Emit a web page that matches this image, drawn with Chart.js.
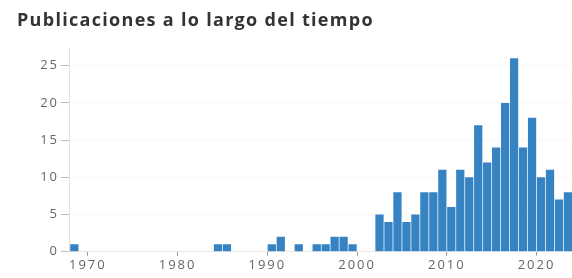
<!DOCTYPE html>
<html>
<head>
<meta charset="utf-8">
<script src="https://cdn.jsdelivr.net/npm/chart.js@4"></script>
<style>
  html, body { margin: 0; padding: 0; background: #fff; }
  #wrap { position: relative; width: 572px; height: 278px; }
  #wrap canvas { position: absolute; left: 0; top: 0; }
  #title {
    position: absolute; left: 17px; top: 7px;
    font: bold 18px "Open Sans"; color: #333;
    letter-spacing: 1.3px; white-space: nowrap;
  }
</style>
</head>
<body>
<div id="wrap">
  <canvas id="chart" width="572" height="278"></canvas>
  <div id="title">Publicaciones a lo largo del tiempo</div>
</div>
<script>
// publications per year (years with no bar are left out)
const years = [1968, 1984, 1985, 1990, 1991, 1993, 1995, 1996, 1997, 1998, 1999,
  2002, 2003, 2004, 2005, 2006, 2007, 2008, 2009, 2010, 2011, 2012,
  2013, 2014, 2015, 2016, 2017, 2018, 2019, 2020, 2021, 2022, 2023]
const counts = [1, 1, 1, 1, 2, 1, 1, 1, 2, 2, 1,
  5, 4, 8, 4, 5, 8, 8, 11, 6, 11, 10,
  17, 12, 14, 20, 26, 14, 18, 10, 11, 7, 8]
const xTicks = [1970, 1980, 1990, 2000, 2010, 2020]
const yTicks = [0, 5, 10, 15, 20, 25]

const tickFont = { family: 'Open Sans', size: 13 }

// each bar covers one year bin [year, year+1)
const points = []
for (let i = 0; i < years.length; i++) {
  points.push({ x: years[i] + 0.5, y: counts[i] })
}

const spacing = {
  id: 'spacing',
  beforeDraw(chart) { chart.ctx.letterSpacing = '2px' }
}

new Chart('chart', {
  type: 'bar',
  data: {
    datasets: [{
      data: points,
      backgroundColor: '#3683c3',
      borderWidth: 0,
      barPercentage: 0.92,
      categoryPercentage: 1
    }]
  },
  options: {
    responsive: false,
    animation: false,
    layout: { padding: { left: 18, top: 48.6, right: 0, bottom: 0 } },
    plugins: {
      legend: { display: false },
      tooltip: { enabled: false }
    },
    scales: {
      x: {
        type: 'linear',
        offset: false,
        min: 1967.9,
        max: 2023.95,
        afterBuildTicks: (s) => { s.ticks = xTicks.map((v) => ({ value: v })) },
        afterFit: (s) => { s.height = 26.3 },
        grid: { offset: false, drawOnChartArea: false, tickLength: 4, tickColor: '#999' },
        border: { color: '#e6e6e6' },
        ticks: { font: tickFont, color: '#666', padding: 2, maxRotation: 0, callback: (v) => String(v) }
      },
      y: {
        min: 0,
        max: 27.3,
        afterBuildTicks: (s) => { s.ticks = yTicks.map((v) => ({ value: v })) },
        afterFit: (s) => { s.width = 51 },
        grid: { color: 'rgba(0,0,0,0.03)', tickColor: '#bbb', tickLength: 8 },
        border: { color: '#e0e0e0' },
        ticks: { font: tickFont, color: '#666', padding: 2, callback: (v) => String(v) }
      }
    }
  },
  plugins: [spacing]
})
</script>
</body>
</html>
